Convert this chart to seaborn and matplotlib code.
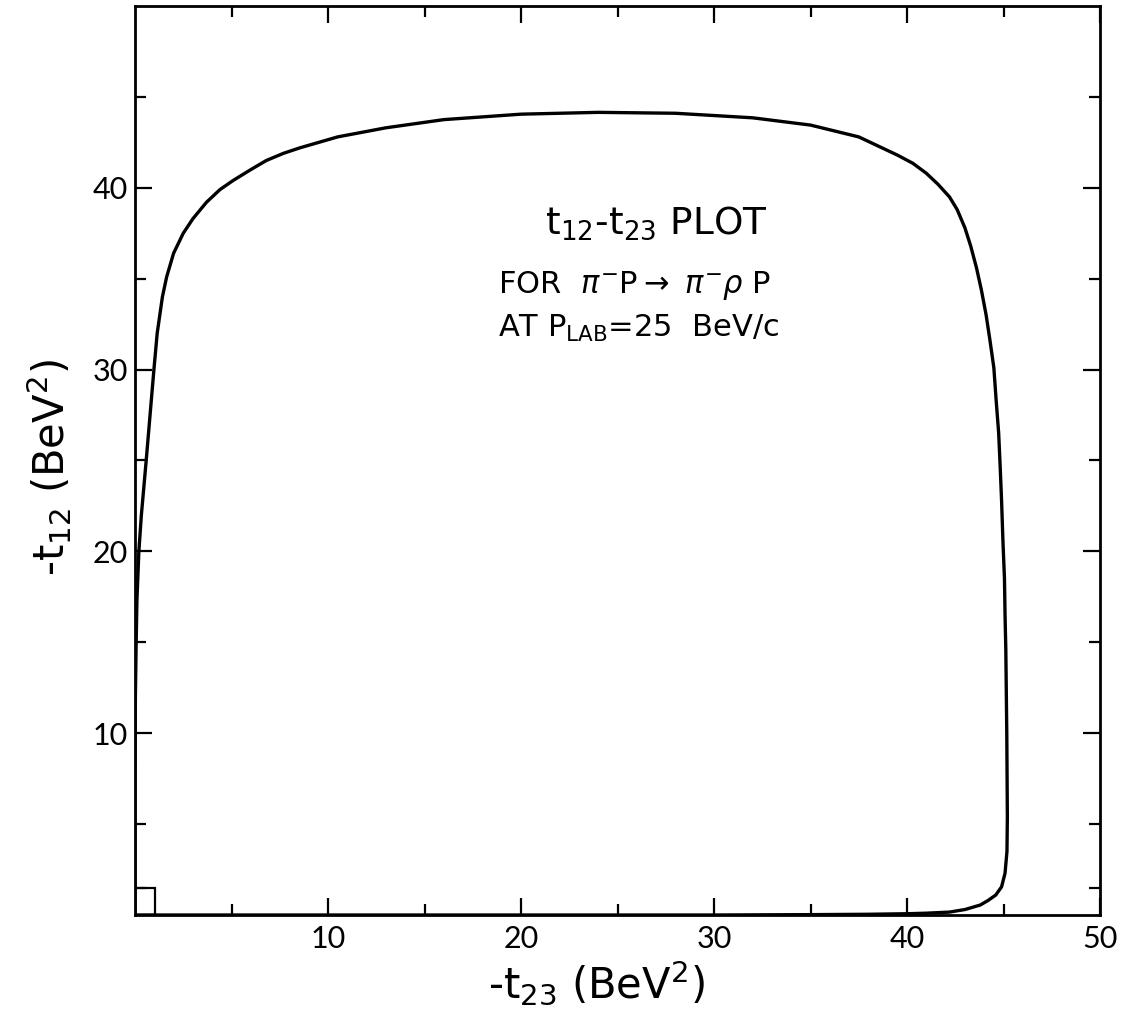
import matplotlib
matplotlib.use("Agg")
import matplotlib.pyplot as plt
from matplotlib.ticker import FixedLocator, FixedFormatter
from matplotlib.patches import Rectangle
import numpy as np
import pandas as pd
import seaborn as sns

# ---- data (boundary curve, going round the region) ----
t23 = [0.0, 0.0, 0.02, 0.06, 0.10, 0.20, 0.33, 0.58, 0.82, 0.98, 1.15, 1.42, 1.64,
       2.0, 2.5, 3.0, 3.7, 4.4, 5.08, 6.0, 6.8, 7.7, 8.55, 10.5, 13.0, 16.0, 20.0,
       24.0, 28.0, 32.0, 35.0, 37.5, 39.5, 40.3, 41.0, 41.6, 42.2, 42.6, 43.0, 43.3,
       43.6, 43.85, 44.1, 44.3, 44.5, 44.62, 44.75, 44.83, 44.9, 44.97, 45.05, 45.08,
       45.12, 45.17, 45.2, 45.18, 45.08, 44.9, 44.6, 44.2, 43.8, 43.0, 42.2, 41.0,
       40.0, 38.0, 35.0, 30.0, 20.0, 10.0, 0.0]
t12 = [0.0, 8.0, 12.0, 15.0, 17.3, 20.0, 22.0, 25.0, 28.0, 30.0, 32.0, 34.0, 35.1,
       36.4, 37.5, 38.3, 39.2, 39.9, 40.4, 41.0, 41.5, 41.9, 42.2, 42.8, 43.3, 43.75, 44.05,
       44.15, 44.1, 43.85, 43.45, 42.8, 41.8, 41.35, 40.8, 40.2, 39.5, 38.8, 37.8, 36.8,
       35.6, 34.4, 33.0, 31.6, 30.1, 28.3, 26.5, 24.6, 22.8, 20.6, 18.5, 16.5,
       14.6, 10.0, 5.4, 3.5, 2.3, 1.55, 1.1, 0.8, 0.55, 0.3, 0.16, 0.10,
       0.07, 0.04, 0.02, 0.0, 0.0, 0.0, 0.0]

x_major = [10, 20, 30, 40, 50]
x_minor = [5, 15, 25, 35, 45]
y_major = [10, 20, 30, 40]
y_minor = [1.5, 5, 15, 25, 35, 45]
x_labels = ["10", "20", "30", "40", "50"]
y_labels = ["10", "20", "30", "40"]
box_t23 = 1.05
box_t12 = 1.5

df = pd.DataFrame({"t23": t23, "t12": t12})

sns.set_theme(style="ticks")
plt.rcParams["font.family"] = ["Lato", "DejaVu Sans"]
plt.rcParams["mathtext.fontset"] = "dejavusans"
plt.rcParams["text.color"] = "black"
plt.rcParams["axes.labelcolor"] = "black"
plt.rcParams["xtick.color"] = "black"
plt.rcParams["ytick.color"] = "black"

fig = plt.figure(figsize=(11.34, 10.22), dpi=100)
ax = fig.add_axes([135 / 1134, 1 - 915 / 1022, 965 / 1134, 909 / 1022])

sns.lineplot(data=df, x="t23", y="t12", sort=False, estimator=None,
             color="black", linewidth=2.4, ax=ax)
ax.add_patch(Rectangle((0, 0), box_t23, box_t12, fill=False, edgecolor="black", lw=1.6))

ax.set_xlim(0, 50)
ax.set_ylim(0, 50)
ax.xaxis.set_major_locator(FixedLocator(x_major))
ax.xaxis.set_minor_locator(FixedLocator(x_minor))
ax.yaxis.set_major_locator(FixedLocator(y_major))
ax.yaxis.set_minor_locator(FixedLocator(y_minor))
ax.xaxis.set_major_formatter(FixedFormatter(x_labels))
ax.yaxis.set_major_formatter(FixedFormatter(y_labels))

for s in ax.spines.values():
    s.set_visible(True)
    s.set_linewidth(2.0)
    s.set_color("black")

ax.tick_params(which="both", direction="in", top=True, right=True,
               bottom=True, left=True, color="black", width=1.6)
ax.tick_params(which="major", length=12)
ax.tick_params(which="minor", length=8)
ax.tick_params(axis="x", which="major", labelsize=22, pad=7, labelcolor="black",
               labelfontfamily="Lato")
ax.tick_params(axis="y", which="major", labelsize=22, pad=5, labelcolor="black",
               labelfontfamily="Lato")

lab_font = ["DejaVu Sans"]
ax.set_xlabel(r"-t$_{23}$ (BeV$^{2}$)", fontsize=30, color="black", family=lab_font)
ax.set_ylabel(r"-t$_{12}$ (BeV$^{2}$)", fontsize=30, color="black", family=lab_font)
ax.xaxis.set_label_coords(0.478, -0.048)
ax.yaxis.set_label_coords(-0.063, 0.492)

ax.text(27.0, 37.5, r"t$_{12}$-t$_{23}$ PLOT", ha="center", va="baseline",
        fontsize=27, family=lab_font)
ax.text(18.8, 34.2, r"FOR  $\pi^{-}$P$\rightarrow$ $\pi^{-}\rho$ P", ha="left",
        va="baseline", fontsize=22, family=lab_font)
ax.text(18.8, 31.8, r"AT P$_{\mathrm{LAB}}$=25  BeV/c", ha="left", va="baseline",
        fontsize=22, family=lab_font)

ax.set_facecolor("white")
fig.patch.set_facecolor("white")
fig.savefig("out.png", dpi=100, facecolor="white")
